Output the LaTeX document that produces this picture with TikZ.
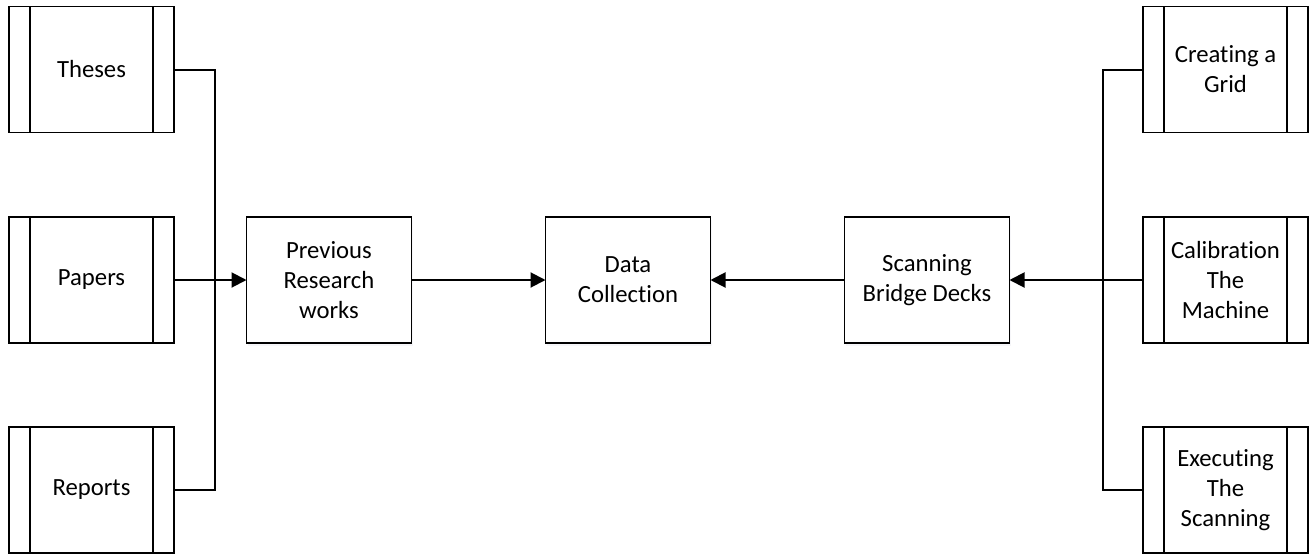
\documentclass[tikz,border=0pt]{standalone}
\usepackage{fontspec}
\setmainfont{Carlito}[Ligatures=NoCommon]
\usetikzlibrary{arrows.meta,shadows}
\tikzset{
  base/.style={draw=black, line width=1.5pt, fill=white, minimum width=165pt, minimum height=126pt,
    inner sep=0pt, outer sep=0pt, align=center,
    font=\fontsize{24.7pt}{30pt}\selectfont},
  procbox/.style={base, drop shadow={opacity=0.12, fill=blue!40!black!30, shadow xshift=1pt, shadow yshift=-3pt}},
  predef/.style={base, path picture={
      \draw[line width=1.5pt] ([xshift=21pt]path picture bounding box.north west) -- ([xshift=21pt]path picture bounding box.south west);
      \draw[line width=1.5pt] ([xshift=-21pt]path picture bounding box.north east) -- ([xshift=-21pt]path picture bounding box.south east);}},
  conn/.style={line width=2pt, draw=black},
  arr/.style={conn, -{Triangle[length=15pt,width=15pt]}}
}
\begin{document}
\begin{tikzpicture}[x=1pt,y=-1pt]
\useasboundingbox (0,0) rectangle (1313,554);
% left column
\node[predef] (theses) at (91.5,69.5) {Theses};
\node[predef] (papers) at (91.5,280) {Papers};
\node[predef] (reports) at (91.5,490) {Reports};
% middle
\node[procbox] (prev) at (329,280) {Previous\\Research\\works};
\node[procbox] (data) at (628,280) {Data\\Collection};
\node[procbox] (scan) at (927,280) {Scanning\\Bridge Decks};
% right column
\node[predef] (grid) at (1225.5,69.5) {Creating a\\Grid};
\node[predef] (calib) at (1225.5,280) {Calibration\\The\\Machine};
\node[predef] (exec) at (1225.5,490) {Executing\\The\\Scanning};
% buses
\coordinate (bl) at (215,280);
\coordinate (br) at (1103,280);
\draw[conn] (theses.east) -| (bl) |- (reports.east);
\draw[arr] (papers.east) -- (prev.west);
\draw[arr] (prev.east) -- (data.west);
\draw[arr] (scan.west) -- (data.east);
\draw[conn] (grid.west) -| (br) |- (exec.west);
\draw[arr] (calib.west) -- (scan.east);
\end{tikzpicture}
\end{document}
